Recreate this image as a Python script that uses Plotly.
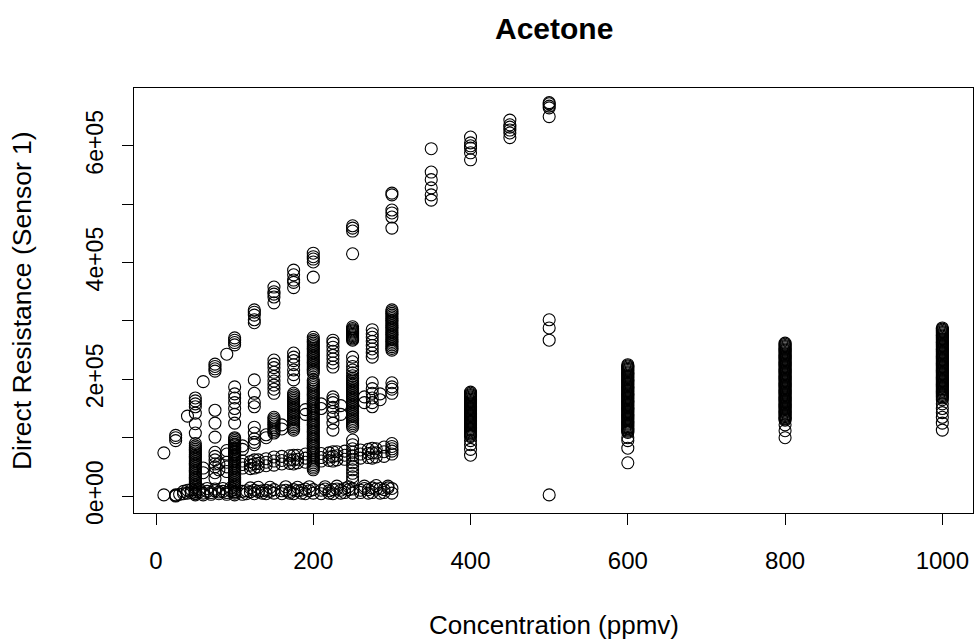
import plotly.graph_objects as go

# ---------------- data (resistance values in thousands of ohms) ----------------
top_x = [10, 25, 25, 25, 40, 50, 50, 50, 50, 60, 75, 75, 75, 75, 90,
         100, 100, 100, 100, 125, 125, 125, 125, 125, 150, 150, 150, 150, 150,
         175, 175, 175, 175, 175, 200, 200, 200, 200, 200, 250, 250, 250, 250,
         300, 300, 300, 300, 300, 300, 350, 350, 350, 350, 350, 350,
         400, 400, 400, 400, 400, 400, 450, 450, 450, 450, 450, 450,
         500, 500, 500, 500, 500]
top_y = [74, 95, 100, 104, 137, 153, 158, 163, 168, 196, 214, 218, 222, 226, 243,
         259, 263, 267, 271, 297, 302, 310, 315, 319, 331, 341, 346, 350, 358,
         357, 366, 370, 379, 387, 375, 401, 406, 410, 416, 415, 454, 459, 463,
         459, 478, 485, 490, 516, 519, 507, 516, 528, 542, 555, 595,
         576, 588, 596, 600, 605, 615, 614, 622, 627, 632, 636, 644,
         650, 665, 668, 672, 674]

upper_x = [50, 50, 50, 75, 75, 75,
           100, 100, 100, 100, 100, 100, 100,
           125, 125, 125, 125, 125, 125,
           150, 150, 150, 150, 150, 150, 150, 150, 150,
           175, 175, 175, 175, 175, 175, 175,
           200, 200, 200, 200, 200, 200, 200, 200, 200, 200, 200,
           200, 200, 200, 200, 200, 200, 200, 200, 200, 200,
           225, 225, 225, 225, 225, 225, 225, 225,
           250, 250, 250, 250, 250, 250, 250, 250, 250, 250, 250, 250,
           250, 250, 250, 250,
           275, 275, 275, 275, 275, 275, 275, 275,
           300, 300, 300, 300, 300, 300, 300, 300, 300, 300, 300, 300,
           300, 300, 300, 300, 300, 300, 300, 300, 300, 300, 300, 300,
           500, 500, 500]
upper_y = [108, 124, 142, 101, 125, 147,
           125, 140, 150, 160, 168, 175, 187,
           108, 118, 153, 160, 176, 199,
           176, 183, 190, 197, 205, 212, 220, 226, 233,
           199, 208, 216, 225, 232, 238, 245,
           211, 214, 217, 220, 223, 226, 229, 232, 235, 238, 241,
           244, 247, 250, 253, 256, 259, 262, 265, 268, 272,
           221, 228, 235, 241, 248, 255, 262, 267,
           267, 269, 271, 273, 275, 277, 279, 281, 283, 285, 287, 290,
           216, 222, 230, 238,
           238, 245, 252, 258, 265, 272, 278, 285,
           250, 253, 256, 259, 262, 265, 268, 271, 274, 277, 280, 283,
           286, 289, 292, 295, 298, 301, 304, 307, 310, 313, 316, 319,
           267, 288, 302]

diag_x = [75, 75, 75, 90, 90, 100, 100, 100, 100, 110, 110, 125, 125, 125, 140, 140,
          150, 150, 150, 150, 150, 150, 150, 150, 150, 150, 160, 160,
          175, 175, 175, 175, 175, 175, 175, 175, 175, 175, 175,
          175, 175, 175, 175, 175, 175, 175, 175, 175, 175, 175, 190, 190,
          200, 200, 200, 200, 200, 200, 200, 200, 200, 200, 200, 200, 200,
          200, 200, 200, 200, 200, 200, 200, 200, 200, 200, 200, 200, 200,
          200, 200, 200, 200, 200, 200, 200, 200, 200, 200, 200, 200, 200,
          200, 200, 200, 200, 200, 200, 200, 200, 200, 200, 200, 200, 200,
          210, 210, 225, 225, 225, 225, 225, 225, 225, 225, 235, 235,
          250, 250, 250, 250, 250, 250, 250, 250, 250, 250, 250, 250,
          250, 250, 250, 250, 250, 250, 250, 250, 250, 250, 250, 250,
          250, 250, 250, 250, 250, 250, 250,
          250, 250, 250, 250, 250, 250, 250, 250, 250, 250, 250, 250,
          265, 265, 275, 275, 275, 275, 275, 275, 285, 285,
          300, 300, 300, 300]
diag_y = [62, 68, 75, 72, 78, 70, 76, 82, 88, 80, 86, 88, 92, 98, 100, 105,
          108, 111, 114, 117, 120, 123, 126, 129, 132, 135, 115, 122,
          113, 116, 119, 122, 125, 128, 131, 134, 137, 140, 143,
          146, 149, 152, 155, 158, 161, 164, 167, 170, 173, 176, 140, 148,
          45, 48, 51, 54, 57, 60, 63, 66, 69, 72, 75, 78, 81,
          84, 87, 90, 93, 96, 99, 102, 105, 108, 111, 114, 117, 120,
          123, 126, 129, 132, 135, 138, 141, 144, 147, 150, 153, 156, 159,
          162, 165, 168, 171, 174, 177, 180, 183, 186, 189, 192, 195, 199,
          150, 158, 113, 125, 135, 145, 152, 160, 165, 170, 140, 155,
          118, 121, 124, 127, 130, 133, 136, 139, 142, 145, 148, 151,
          154, 157, 160, 163, 166, 169, 172, 175, 178, 181, 184, 187,
          190, 193, 196, 199, 202, 206, 211,
          27, 33, 39, 45, 51, 57, 63, 69, 75, 81, 88, 96,
          160, 170, 153, 160, 168, 176, 184, 194, 165, 175,
          176, 183, 187, 194]

mid_x = [50, 50, 50, 50, 50, 50, 50, 50, 50, 50, 50, 50, 50, 50, 50,
         50, 50, 50, 50, 50, 50, 50, 50, 50, 50, 50, 50, 50, 50, 50,
         60, 60, 75, 75, 75, 75, 80, 80, 90, 90, 90,
         100, 100, 100, 100, 100, 100, 100, 100, 100, 100, 100, 100, 100, 100,
         100, 100, 100, 100, 100, 100, 100, 100, 100, 100, 100, 100, 100, 100,
         100, 100, 100, 100, 100, 100,
         110, 110, 110, 120, 120, 120, 125, 125, 125, 130, 130, 130, 140, 140, 140,
         150, 150, 150, 160, 160, 160, 170, 170, 170, 175, 175, 175,
         180, 180, 180, 190, 190, 190,
         210, 210, 210, 220, 220, 220, 225, 225, 225, 230, 230, 230, 240, 240, 240,
         260, 260, 260, 270, 270, 270, 275, 275, 275, 280, 280, 280, 290, 290, 290,
         300, 300, 300, 300, 300]
mid_y = [2, 5, 8, 11, 14, 17, 20, 23, 26, 29, 32, 35, 38, 41, 44,
         47, 50, 53, 56, 59, 62, 65, 68, 71, 74, 77, 80, 83, 86, 90,
         40, 48, 30, 40, 50, 55, 45, 55, 42, 50, 58,
         2, 5, 8, 11, 14, 17, 20, 23, 26, 29, 32, 35, 38, 41,
         44, 47, 50, 53, 56, 59, 62, 65, 68, 71, 74, 77, 80, 83,
         86, 89, 92, 95, 98, 100,
         48, 54, 60, 47, 53, 59, 48, 55, 62, 50, 56, 62, 52, 58, 64,
         53, 60, 67, 55, 61, 68, 56, 62, 69, 55, 62, 70,
         57, 63, 70, 58, 65, 72,
         60, 66, 73, 61, 67, 74, 60, 68, 76, 62, 69, 76, 63, 70, 77,
         65, 72, 79, 66, 73, 80, 65, 74, 82, 67, 74, 81, 68, 76, 84,
         72, 77, 81, 85, 90]

low_x = [10, 25, 25, 25, 30, 35, 40, 45, 50, 55, 60, 65, 70, 75, 80, 85, 90, 95,
         100, 110, 115, 120, 125, 130, 135, 140, 145, 150, 160, 165, 170, 175,
         180, 185, 190, 195, 200, 210, 215, 220, 225, 230, 235, 240, 245, 250,
         260, 265, 270, 275, 280, 285, 290, 295, 300,
         35, 40, 45, 55, 60, 65, 70, 75, 80, 85, 90, 95,
         110, 115, 120, 125, 130, 135, 140, 145, 150, 160, 165, 170, 175,
         180, 185, 190, 195, 200, 210, 215, 220, 225, 230, 235, 240, 245, 250,
         260, 265, 270, 275, 280, 285, 290, 295, 300,
         500]
low_y = [2, 0, 1, 2, 3, 4, 5, 6, 4, 7, 5, 8, 6, 9, 7, 8, 6, 9,
         7, 8, 9, 7, 10, 8, 9, 10, 8, 11, 9, 10, 8, 11,
         9, 10, 12, 9, 11, 10, 12, 9, 11, 12, 10, 13, 11, 12,
         10, 13, 11, 14, 12, 13, 11, 14, 13,
         8, 10, 11, 12, 2, 13, 3, 12, 4, 13, 3, 14,
         3, 4, 14, 4, 15, 5, 4, 15, 5, 4, 16, 5, 4,
         15, 5, 4, 16, 5, 4, 16, 5, 4, 17, 5, 6, 16, 5,
         6, 17, 5, 6, 18, 5, 6, 17, 5,
         2]

c400_x = [400] * 43
c400_y = [178, 176, 174, 172, 170, 168, 166, 164, 162, 160, 158, 156, 154, 152,
          150, 148, 146, 144, 142, 140, 138, 136, 134, 132, 130, 128, 126, 124,
          122, 120, 118, 116, 114, 112, 110, 108, 106, 104, 102, 95, 88, 80, 70]

c600_x = [600] * 63
c600_y = [225, 223, 221, 219, 217, 215, 213, 211, 209, 207, 205, 203, 201, 199,
          197, 195, 193, 191, 189, 187, 185, 183, 181, 179, 177, 175, 173, 171,
          169, 167, 165, 163, 161, 159, 157, 155, 153, 151, 149, 147, 145, 143,
          141, 139, 137, 135, 133, 131, 129, 127, 125, 123, 121, 119, 117, 115,
          113, 111, 109, 100, 95, 82, 57]

c800_x = [800] * 70
c800_y = [262, 260, 258, 256, 254, 252, 250, 248, 246, 244, 242, 240, 238, 236,
          234, 232, 230, 228, 226, 224, 222, 220, 218, 216, 214, 212, 210, 208,
          206, 204, 202, 200, 198, 196, 194, 192, 190, 188, 186, 184, 182, 180,
          178, 176, 174, 172, 170, 168, 166, 164, 162, 160, 158, 156, 154, 152,
          150, 148, 146, 144, 142, 140, 138, 136, 134, 132, 130, 122, 112, 100]

c1000_x = [1000] * 68
c1000_y = [288, 286, 284, 282, 280, 278, 276, 274, 272, 270, 268, 266, 264, 262,
           260, 258, 256, 254, 252, 250, 248, 246, 244, 242, 240, 238, 236, 234,
           232, 230, 228, 226, 224, 222, 220, 218, 216, 214, 212, 210, 208, 206,
           204, 202, 200, 198, 196, 194, 192, 190, 188, 186, 184, 182, 180, 178,
           176, 174, 172, 170, 168, 165, 158, 150, 143, 135, 125, 113]

y_tick_vals = [0, 100000, 200000, 300000, 400000, 500000, 600000]
y_tick_text = ["0e+00", "", "2e+05", "", "4e+05", "", "6e+05"]
x_tick_vals = [0, 200, 400, 600, 800, 1000]

# ---------------- figure ----------------
groups = [(top_x, top_y), (upper_x, upper_y), (diag_x, diag_y), (mid_x, mid_y),
          (low_x, low_y), (c400_x, c400_y), (c600_x, c600_y),
          (c800_x, c800_y), (c1000_x, c1000_y)]

xs, ys = [], []
for gx, gy in groups:
    xs.extend(gx)
    ys.extend([v * 1000 for v in gy])

FONT = "Liberation Sans, Arial, Helvetica, sans-serif"

fig = go.Figure()
fig.add_trace(go.Scatter(
    x=xs, y=ys, mode="markers",
    marker=dict(symbol="circle-open", size=12, color="black",
                line=dict(width=1.1, color="black")),
    showlegend=False, hoverinfo="x+y"))

fig.update_layout(
    width=976, height=642,
    margin=dict(l=134, r=3, t=88, b=129),
    paper_bgcolor="white", plot_bgcolor="white",
    font=dict(family=FONT, size=16, color="black"),
    xaxis=dict(range=[-28, 1039], tickvals=x_tick_vals, ticks="outside",
               ticklen=11, tickcolor="black", showgrid=False, zeroline=False,
               showline=True, linecolor="black", linewidth=1, mirror=True,
               tickfont=dict(size=24), ticklabelstandoff=15),
    yaxis=dict(range=[-29000, 699000], tickvals=y_tick_vals, ticktext=y_tick_text,
               ticks="outside", ticklen=11, tickcolor="black", tickangle=-90,
               showgrid=False, zeroline=False, showline=True, linecolor="black",
               linewidth=1, mirror=True, tickfont=dict(size=23),
               ticklabelstandoff=10),
    annotations=[
        dict(text="<b>Acetone</b>", xref="paper", yref="paper", x=0.5, y=1.141,
             showarrow=False, font=dict(size=30), xanchor="center", yanchor="middle"),
        dict(text="Concentration (ppmv)", xref="paper", yref="paper", x=0.5,
             y=-0.2635, showarrow=False, font=dict(size=26),
             xanchor="center", yanchor="middle"),
        dict(text="Direct Resistance (Sensor 1)", xref="paper", yref="paper",
             x=-0.1335, y=0.501, showarrow=False, font=dict(size=26.5), textangle=-90,
             xanchor="center", yanchor="middle"),
    ],
)

fig.write_html("out.html")
